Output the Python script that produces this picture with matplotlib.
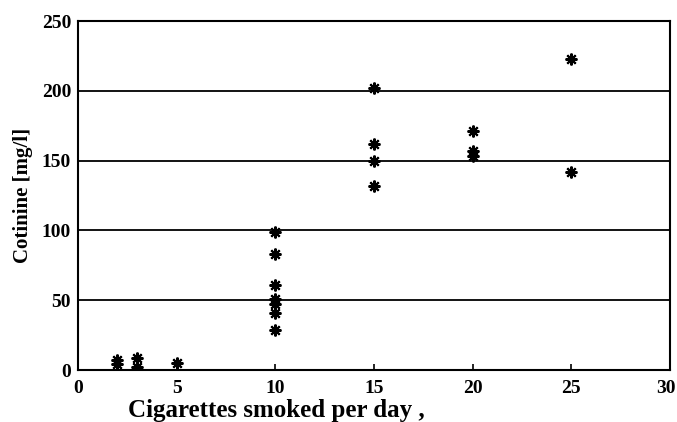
import matplotlib
matplotlib.use("Agg")
import matplotlib.pyplot as plt
from matplotlib.transforms import ScaledTranslation

cigarettes = [2, 2, 3, 3, 5,
              10, 10, 10, 10, 10, 10, 10,
              15, 15, 15, 15,
              20, 20, 20,
              25, 25]
cotinine = [7, 4, 8.5, 2, 5,
            99, 83, 61, 51, 47, 41, 29,
            202, 162, 150, 132,
            171, 157, 153,
            223, 142]

x_ticks = [0, 5, 10, 15, 20, 25, 30]
y_ticks = [0, 50, 100, 150, 200, 250]
grid_levels = [50, 100, 150, 200]

plt.rcParams['font.family'] = ['Liberation Serif', 'DejaVu Serif']

fig = plt.figure(figsize=(6.77, 4.22), dpi=100)
ax = fig.add_axes([0.1152, 0.1232, 0.8745, 0.827])

for g in grid_levels:
    ax.axhline(g, color='black', lw=1.3, zorder=1)

ax.plot(cigarettes, cotinine, linestyle='none', marker=(8, 2, 0),
        markersize=8.5, markeredgewidth=1.5, color='black', zorder=3)

ax.set_xlim(0, 30)
ax.set_ylim(0, 250)
ax.set_xticks(x_ticks)
ax.set_yticks(y_ticks)
ax.set_xticklabels([str(t) for t in x_ticks], fontweight='bold', fontsize=14)
ax.set_yticklabels([str(t) for t in y_ticks], fontweight='bold', fontsize=14)
ax.tick_params(direction='in', length=4, width=1.2, pad=7)
ax.tick_params(axis='y', length=0, pad=5)
for s in ax.spines.values():
    s.set_linewidth(1.5)

last = ax.get_xticklabels()[-1]
last.set_transform(last.get_transform() + ScaledTranslation(-4 / 100, 0, fig.dpi_scale_trans))

fig.text(276 / 677, 11 / 422, 'Cigarettes smoked per day ,', fontweight='bold',
         fontsize=18, ha='center', va='center')
ax.set_ylabel('Cotinine [mg/l]', fontweight='bold', fontsize=15, labelpad=6)

fig.savefig('out.png', dpi=100)
